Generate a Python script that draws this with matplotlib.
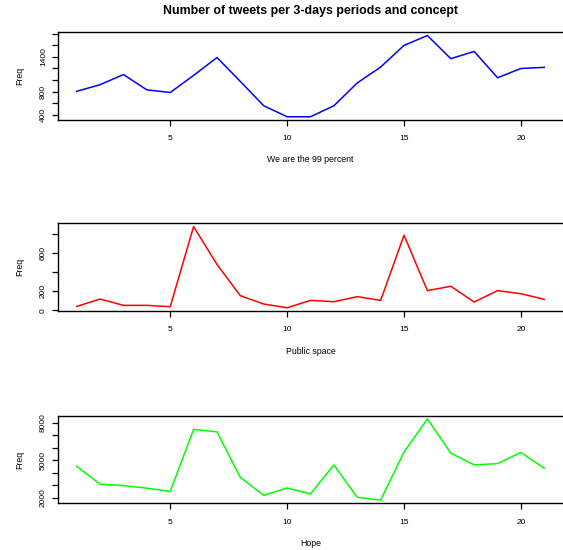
import matplotlib.pyplot as plt
import numpy as np

plt.rcParams["font.family"] = ["Liberation Sans", "DejaVu Sans"]

periods = list(range(1, 22))

we_are_99 = [805, 920, 1095, 830, 785, 1080, 1390, 975, 555, 365, 365,
             555, 950, 1225, 1600, 1770, 1370, 1495, 1040, 1200, 1220]
public_space = [42, 119, 53, 53, 39, 877, 481, 154, 67, 28, 105,
                91, 144, 105, 786, 207, 253, 88, 207, 175, 116]
hope = [4510, 3080, 2970, 2760, 2490, 7460, 7270, 3620, 2190, 2780, 2300,
        4620, 2030, 1810, 5650, 8300, 5570, 4620, 4730, 5620, 4350]

series = [we_are_99, public_space, hope]
names = ["We are the 99 percent", "Public space", "Hope"]
colors = ["#0000ff", "#ff0000", "#00ff00"]
yticks = [list(range(400, 1801, 200)), list(range(0, 801, 200)), list(range(2000, 8001, 1000))]
ylabels_shown = [[400, 800, 1400], [0, 200, 600], [2000, 5000, 8000]]
xticks = [5, 10, 15, 20]

W, H = 563, 550
fig = plt.figure(figsize=(W / 100, H / 100), dpi=100)

# axes boxes in pixels: (top, bottom)
boxes = [(32.3, 120.0), (223.3, 311.0), (415.7, 503.3)]
left_px = 58

for i in range(3):
    top, bottom = boxes[i]
    ax = fig.add_axes([left_px / W, 1 - bottom / H, 1 - left_px / W, (bottom - top) / H])
    ax.plot(periods, series[i], color=colors[i], linewidth=1.1)
    ax.margins(x=0.04, y=0.04)

    ax.spines["right"].set_visible(False)
    for s in ["left", "top", "bottom"]:
        ax.spines[s].set_linewidth(1.0)

    ax.set_xticks(xticks)
    ax.set_xticklabels([str(t) for t in xticks], fontsize=6)
    ax.set_yticks(yticks[i])
    ax.set_yticklabels([str(t) if t in ylabels_shown[i] else "" for t in yticks[i]],
                       fontsize=6, rotation=90, va="center")
    ax.tick_params(axis="x", length=4, width=0.9, pad=7)
    ax.tick_params(axis="y", length=4, width=0.9, pad=4)

    h = bottom - top
    ax.text(0.5, -40 / h, names[i], transform=ax.transAxes,
            ha="center", va="center", fontsize=6.3)
    ax.text((20 - left_px) / (W - left_px), 0.5, "Freq", transform=ax.transAxes,
            ha="center", va="center", rotation=90, fontsize=6.3)

fig.text(310.6 / W, 1 - 11 / H, "Number of tweets per 3-days periods and concept",
         ha="center", va="center", fontsize=8.9, fontweight="bold")

fig.savefig("out.png", dpi=100)
